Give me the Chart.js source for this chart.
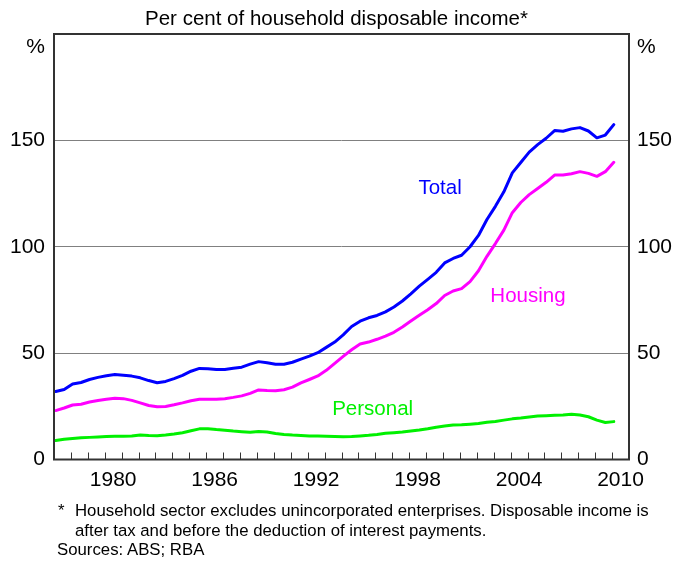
<!DOCTYPE html>
<html><head><meta charset="utf-8">
<script src="https://cdn.jsdelivr.net/npm/chart.js@4"></script>
<style>
html,body{margin:0;padding:0;background:#fff;}
#wrap{position:relative;width:673px;height:563px;overflow:hidden;background:#fff}
canvas{position:absolute;left:0;top:0}
.fn{position:absolute;font-family:"Liberation Sans",Arial,sans-serif;font-size:16.8px;color:#000;line-height:19.5px;white-space:nowrap}
</style></head><body>
<div id="wrap"><canvas id="c" width="673" height="563"></canvas>
<div class="fn" style="left:58px;top:501px">*</div>
<div class="fn" style="left:75px;top:501px">Household sector excludes unincorporated enterprises. Disposable income is<br>after tax and before the deduction of interest payments.</div>
<div class="fn" style="left:57px;top:540px">Sources: ABS; RBA</div>
</div>
<script>
const dates = [1977.1,1977.6,1978.1,1978.6,1979.1,1979.6,1980.1,1980.6,1981.1,1981.6,
1982.1,1982.6,1983.1,1983.6,1984.1,1984.6,1985.1,1985.6,1986.1,1986.6,
1987.1,1987.6,1988.1,1988.6,1989.1,1989.6,1990.1,1990.6,1991.1,1991.6,
1992.1,1992.6,1993.1,1993.6,1994.1,1994.6,1995.1,1995.6,1996.1,1996.6,
1997.1,1997.6,1998.1,1998.6,1999.1,1999.6,2000.1,2000.6,2001.1,2001.6,
2002.1,2002.6,2003.1,2003.6,2004.1,2004.6,2005.1,2005.6,2006.1,2006.6,
2007.1,2007.6,2008.1,2008.6,2009.1,2009.6,2010.1];
const total = [32.0,32.9,35.5,36.2,37.6,38.6,39.4,39.9,39.6,39.2,
38.4,37.1,36.1,36.7,38.0,39.5,41.5,42.8,42.7,42.3,
42.3,42.9,43.4,44.8,46.0,45.5,44.8,44.8,45.7,47.2,
48.6,50.2,52.7,55.2,58.6,62.5,65.0,66.6,67.7,69.4,
71.7,74.5,77.9,81.5,84.7,88.0,92.4,94.5,96.0,100.0,
105.3,112.8,119.0,125.8,134.7,139.6,144.5,148.0,151.0,154.6,
154.3,155.4,156.0,154.4,151.2,152.5,157.4];
const housing = [23.0,24.2,25.6,26.0,27.0,27.7,28.3,28.8,28.6,27.8,
26.6,25.4,24.8,24.9,25.7,26.6,27.6,28.3,28.3,28.3,
28.6,29.2,29.9,31.1,32.7,32.4,32.3,32.8,34.0,36.0,
37.6,39.3,41.9,45.2,48.5,51.6,54.3,55.2,56.5,58.0,
59.8,62.3,65.1,67.8,70.4,73.3,77.1,79.2,80.3,83.6,
88.7,95.5,101.5,107.8,116.0,120.8,124.5,127.4,130.3,133.7,
133.7,134.3,135.3,134.5,133.1,135.3,139.7];
const personal = [8.9,9.5,9.9,10.2,10.4,10.6,10.8,10.9,10.9,11.0,
11.5,11.3,11.2,11.5,12.0,12.6,13.5,14.4,14.5,14.1,
13.8,13.4,13.1,12.8,13.2,12.9,12.2,11.8,11.5,11.3,
11.1,11.0,10.9,10.8,10.7,10.8,11.1,11.4,11.8,12.3,
12.6,12.9,13.4,13.9,14.5,15.2,15.7,16.2,16.3,16.6,
16.9,17.5,17.9,18.5,19.1,19.5,20.0,20.4,20.6,20.8,
20.9,21.3,20.9,20.1,18.5,17.4,17.8];
const yTicks = [0,50,100,150];
const xLabelYears = [1980,1986,1992,1998,2004,2010];
const xMin = 1977, xMax = 2011, yMin = 0, yMax = 200;
const seriesLabels = [
  {text:'Total', x:1998.55, y:124.8, color:'#0000ff'},
  {text:'Housing', x:2002.8, y:74.0, color:'#ff00ff'},
  {text:'Personal', x:1993.45, y:20.9, color:'#00f000'}
];

const FONT = '"Liberation Sans", Arial, sans-serif';
const toXY = arr => arr.map((v,i)=>({x:dates[i], y:v}));

const framePlugin = {
  id:'frame',
  afterDatasetsDraw(chart){
    const {ctx, chartArea:a, scales} = chart;
    ctx.save();
    ctx.strokeStyle = '#333';
    ctx.lineWidth = 1;
    ctx.beginPath();
    for(let yr = xMin+1; yr < xMax; yr++){
      const px = Math.round(scales.x.getPixelForValue(yr)) + 0.5;
      ctx.moveTo(px, a.bottom);
      ctx.lineTo(px, a.bottom - 7);
    }
    ctx.stroke();
    ctx.strokeStyle = '#333';
    ctx.lineWidth = 2;
    ctx.strokeRect(a.left, a.top, a.right - a.left, a.bottom - a.top);
    ctx.fillStyle = '#000';
    ctx.font = '21px ' + FONT;
    ctx.textBaseline = 'middle';
    ctx.textAlign = 'right';
    ctx.fillText('%', a.left - 9, a.top + 13);
    ctx.textAlign = 'left';
    ctx.fillText('%', a.right + 8, a.top + 13);
    ctx.font = '20.5px ' + FONT;
    ctx.textBaseline = 'alphabetic';
    ctx.textAlign = 'left';
    seriesLabels.forEach(l=>{
      ctx.fillStyle = l.color;
      ctx.fillText(l.text, scales.x.getPixelForValue(l.x), scales.y.getPixelForValue(l.y));
    });
    ctx.restore();
  }
};

const tickFont = {family:FONT, size:21, lineHeight:1.2};
new Chart(document.getElementById('c'), {
  type:'line',
  data:{datasets:[
    {label:'Total', data:toXY(total), borderColor:'#0000ff', borderWidth:3, pointRadius:0, tension:0, borderJoinStyle:'round', borderCapStyle:'round'},
    {label:'Housing', data:toXY(housing), borderColor:'#ff00ff', borderWidth:3, pointRadius:0, tension:0, borderJoinStyle:'round', borderCapStyle:'round'},
    {label:'Personal', data:toXY(personal), borderColor:'#00f000', borderWidth:3, pointRadius:0, tension:0, borderJoinStyle:'round', borderCapStyle:'round'}
  ]},
  options:{
    responsive:false, animation:false, devicePixelRatio:1,
    layout:{padding:0},
    plugins:{
      legend:{display:false}, tooltip:{enabled:false},
      title:{display:true, text:'Per cent of household disposable income*', color:'#000',
        font:{family:FONT, size:20.5, weight:'normal', lineHeight:'24px'}, padding:{top:7, bottom:3}}
    },
    scales:{
      x:{type:'linear', min:xMin, max:xMax,
        grid:{display:false, drawTicks:false}, border:{display:false},
        afterBuildTicks: s => { s.ticks = xLabelYears.map(y=>({value:y+0.5})); },
        ticks:{callback: v => String(Math.floor(v)), font:tickFont, color:'#000', padding:8, maxRotation:0, autoSkip:false},
        afterFit: s => { s.height = 103.5; }
      },
      y:{position:'left', min:yMin, max:yMax,
        afterBuildTicks: s => { s.ticks = yTicks.map(v=>({value:v})); },
        grid:{color:'#808080', lineWidth:1, drawTicks:false}, border:{display:false},
        ticks:{font:tickFont, color:'#000', padding:9},
        afterFit: s => { s.width = 54; }
      },
      y2:{position:'right', min:yMin, max:yMax,
        afterBuildTicks: s => { s.ticks = yTicks.map(v=>({value:v})); },
        grid:{display:false, drawTicks:false}, border:{display:false},
        ticks:{font:tickFont, color:'#000', padding:8},
        afterFit: s => { s.width = 44; }
      }
    }
  },
  plugins:[framePlugin]
});
</script>
</body></html>
